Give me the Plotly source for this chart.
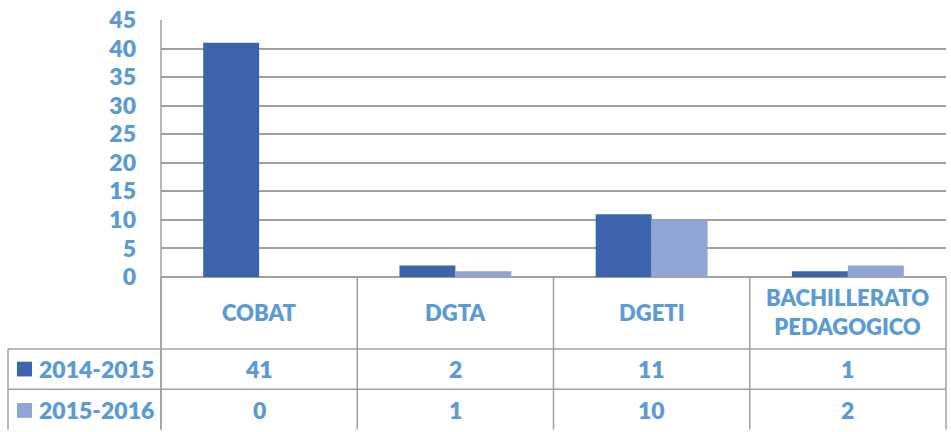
import plotly.graph_objects as go

categories = ["COBAT", "DGTA", "DGETI", "BACHILLERATO<br>PEDAGOGICO"]
series_names = ["2014-2015", "2015-2016"]
values_2014_2015 = [41, 2, 11, 1]
values_2015_2016 = [0, 1, 10, 2]
y_ticks = [0, 5, 10, 15, 20, 25, 30, 35, 40, 45]

colors = ["#3C64AC", "#8FA5D4"]
text_color = "#5B9BD5"
line_color = "#A0A0A0"
font_family = "Lato, 'Open Sans', sans-serif"

W, H = 951, 432
L, R, T, B = 161, 5, 16, 155
pw = W - L - R
ph = H - T - B

def px_x(px):
    return (px - L) / pw

def px_y(py):
    return (H - B - py) / ph

def tfont(size):
    return dict(family=font_family, size=size, color=text_color, weight=800)

fig = go.Figure()
series_values = [values_2014_2015, values_2015_2016]
for name, vals, c in zip(series_names, series_values, colors):
    fig.add_trace(go.Bar(x=categories, y=vals, name=name, marker=dict(color=c, line=dict(width=0))))

shapes = []
annotations = []

y_hdr_top = px_y(277)
y_row1 = px_y(350)
y_row2 = px_y(391)
y_bot = px_y(432)

n = len(categories)
for i in range(n + 1):
    xp = i / n
    shapes.append(dict(type="line", xref="paper", yref="paper", x0=xp, x1=xp,
                       y0=y_hdr_top, y1=y_bot, line=dict(color=line_color, width=1.5)))
shapes.append(dict(type="line", xref="paper", yref="paper", x0=px_x(8), x1=px_x(8),
                   y0=y_row1, y1=y_bot, line=dict(color=line_color, width=1.5)))
for yy in [y_row1, y_row2]:
    shapes.append(dict(type="line", xref="paper", yref="paper", x0=px_x(8), x1=1,
                       y0=yy, y1=yy, line=dict(color=line_color, width=1.5)))
shapes.append(dict(type="line", xref="paper", yref="paper", x0=0, x1=0,
                   y0=1, y1=y_bot, line=dict(color=line_color, width=1.5)))

for i, cat in enumerate(categories):
    annotations.append(dict(xref="paper", yref="paper", x=(i + 0.5) / n, y=px_y(313),
                            text=cat, showarrow=False, xanchor="center", yanchor="middle",
                            font=tfont(22), align="center"))

row_centers = [px_y(370.5), px_y(412)]
sq_tops = [363, 405]
for s in range(len(series_names)):
    shapes.append(dict(type="rect", xref="paper", yref="paper",
                       x0=px_x(17), x1=px_x(32), y0=px_y(sq_tops[s]), y1=px_y(sq_tops[s] + 15),
                       fillcolor=colors[s], line=dict(width=0)))
    annotations.append(dict(xref="paper", yref="paper", x=px_x(37), y=row_centers[s],
                            text=series_names[s], showarrow=False,
                            xanchor="left", yanchor="middle", font=tfont(23)))
    for i, v in enumerate(series_values[s]):
        annotations.append(dict(xref="paper", yref="paper", x=(i + 0.5) / n, y=row_centers[s],
                                text=str(v), showarrow=False,
                                xanchor="center", yanchor="middle", font=tfont(23)))

fig.update_layout(
    width=W, height=H,
    margin=dict(l=L, r=R, t=T, b=B, pad=0),
    paper_bgcolor="white", plot_bgcolor="white",
    barmode="group", bargap=0.43, bargroupgap=0,
    showlegend=False,
    shapes=shapes, annotations=annotations,
    xaxis=dict(showticklabels=False, showgrid=False, zeroline=False, showline=False,
               range=[-0.5, n - 0.5], fixedrange=True),
    yaxis=dict(range=[0, 45], tickvals=y_ticks,
               showgrid=True, gridcolor=line_color, gridwidth=1.5,
               zeroline=True, zerolinecolor=line_color, zerolinewidth=1.5,
               showline=False, ticks="", ticklabelstandoff=24,
               tickfont=tfont(23)),
)

fig.write_html("out.html", config={"displayModeBar": False},
               post_script="document.body.style.margin='0';document.body.style.overflow='hidden';")
